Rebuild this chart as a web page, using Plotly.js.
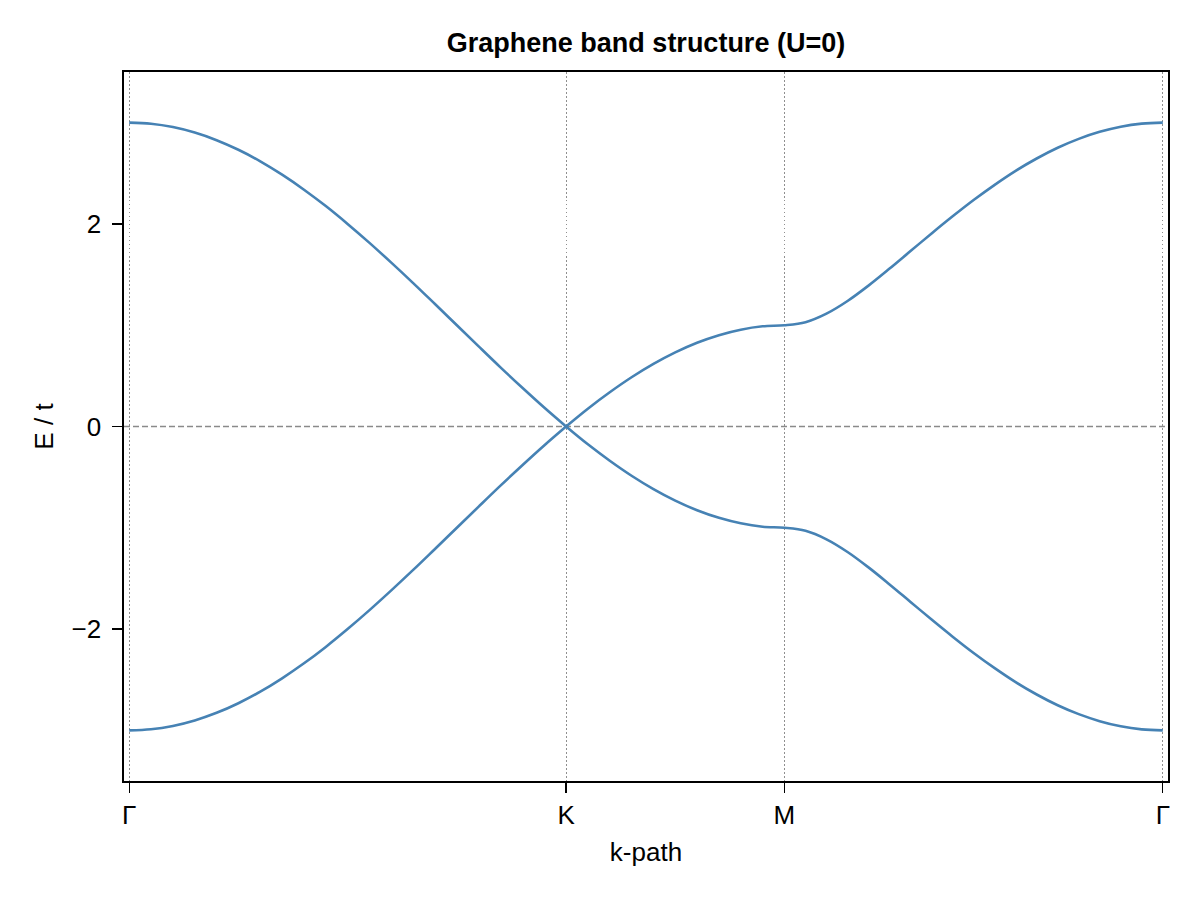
<!DOCTYPE html>
<html>
<head>
<meta charset="utf-8">
<script src="https://cdn.plot.ly/plotly-3.0.1.min.js"></script>
<style>html,body{margin:0;padding:0;background:#fff;}#chart{width:1200px;height:900px;}</style>
</head>
<body>
<div id="chart"></div>
<script>
// k-path distance (Γ → K → M → Γ)
const kPath = [
  0.000, 0.209, 0.419, 0.628, 0.838, 1.047, 1.257, 1.466, 1.676, 1.885,
  2.094, 2.304, 2.513, 2.723, 2.932, 3.142, 3.351, 3.560, 3.770, 3.979,
  4.189, 4.398, 4.608, 4.817, 5.027, 5.236, 5.445, 5.655, 5.864, 6.074,
  6.283, 6.485, 6.686, 6.888, 7.089, 7.291, 7.492, 7.694, 7.896, 8.097,
  8.299, 8.500, 8.702, 8.903, 9.105, 9.306, 9.508, 9.709, 9.911
];
// upper (conduction) band E/t
const upperBand = [
  3.000, 2.989, 2.956, 2.902, 2.827, 2.732, 2.618, 2.486, 2.338, 2.176,
  2.000, 1.813, 1.618, 1.416, 1.209, 1.000, 0.791, 0.584, 0.382, 0.187,
  0.000, 0.176, 0.338, 0.486, 0.618, 0.732, 0.827, 0.902, 0.956, 0.989,
  1.000, 1.030, 1.114, 1.239, 1.391, 1.559, 1.732, 1.906, 2.075, 2.236,
  2.386, 2.524, 2.646, 2.752, 2.840, 2.909, 2.960, 2.990, 3.000
];
// lower (valence) band E/t
const lowerBand = [
  -3.000, -2.989, -2.956, -2.902, -2.827, -2.732, -2.618, -2.486, -2.338, -2.176,
  -2.000, -1.813, -1.618, -1.416, -1.209, -1.000, -0.791, -0.584, -0.382, -0.187,
  0.000, -0.176, -0.338, -0.486, -0.618, -0.732, -0.827, -0.902, -0.956, -0.989,
  -1.000, -1.030, -1.114, -1.239, -1.391, -1.559, -1.732, -1.906, -2.075, -2.236,
  -2.386, -2.524, -2.646, -2.752, -2.840, -2.909, -2.960, -2.990, -3.000
];
// high-symmetry points
const kTickPos = [0, 4.189, 6.283, 9.911];
const kTickLabels = ['Γ', 'K', 'M', 'Γ'];
const yTickVals = [-2, 0, 2];
const yTickLabels = ['−2', '0', '2'];

const FONT = 'Liberation Sans, Arial, Helvetica, sans-serif';
const lineStyle = {color: '#4682B4', width: 2.6, shape: 'spline', smoothing: 1};

// split at the Dirac point K so the cone tip stays sharp
const iK = kPath.indexOf(kTickPos[1]);
const traces = [];
[upperBand, lowerBand].forEach(band => {
  traces.push({x: kPath.slice(0, iK + 1), y: band.slice(0, iK + 1), type: 'scatter', mode: 'lines', line: lineStyle, showlegend: false, hoverinfo: 'skip'});
  traces.push({x: kPath.slice(iK), y: band.slice(iK), type: 'scatter', mode: 'lines', line: lineStyle, showlegend: false, hoverinfo: 'skip'});
});

const layout = {
  width: 1200, height: 900,
  paper_bgcolor: '#fff', plot_bgcolor: '#fff',
  margin: {l: 124, r: 32, t: 72, b: 119, pad: 0},
  font: {family: FONT, size: 26, color: '#000'},
  title: {
    text: '<b>Graphene band structure (U=0)</b>',
    font: {family: FONT, size: 27, color: '#000'},
    xref: 'paper', x: 0.5, xanchor: 'center',
    yref: 'container', y: 1 - 43/900, yanchor: 'middle'
  },
  xaxis: {
    range: [-0.05, 9.961],
    tickmode: 'array', tickvals: kTickPos, ticktext: kTickLabels,
    ticks: 'outside', ticklen: 10, tickwidth: 1.3, tickcolor: '#000',
    ticklabelstandoff: 0,
    showgrid: true, gridcolor: '#8f8f8f', gridwidth: 1, griddash: '1.5px,2.5px',
    zeroline: false,
    showline: true, mirror: true, linecolor: '#000', linewidth: 1.6,
    tickfont: {family: FONT, size: 26, color: '#000'},
    title: {text: 'k-path', font: {family: FONT, size: 26, color: '#000'}, standoff: 14}
  },
  yaxis: {
    range: [-3.5, 3.5],
    tickmode: 'array', tickvals: yTickVals, ticktext: yTickLabels,
    ticks: 'outside', ticklen: 10, tickwidth: 1.3, tickcolor: '#000',
    ticklabelstandoff: 6,
    showgrid: false, zeroline: false,
    showline: true, mirror: true, linecolor: '#000', linewidth: 1.6,
    tickfont: {family: FONT, size: 26, color: '#000'},
    title: {text: 'E / t', font: {family: FONT, size: 26, color: '#000'}, standoff: 10}
  },
  shapes: [{
    type: 'line', xref: 'paper', yref: 'y', x0: 0, x1: 1, y0: 0, y1: 0,
    layer: 'below',
    line: {color: '#8a8a8a', width: 1.3, dash: '6px,3px'}
  }]
};

Plotly.newPlot('chart', traces, layout, {staticPlot: true, displayModeBar: false});
</script>
</body>
</html>
